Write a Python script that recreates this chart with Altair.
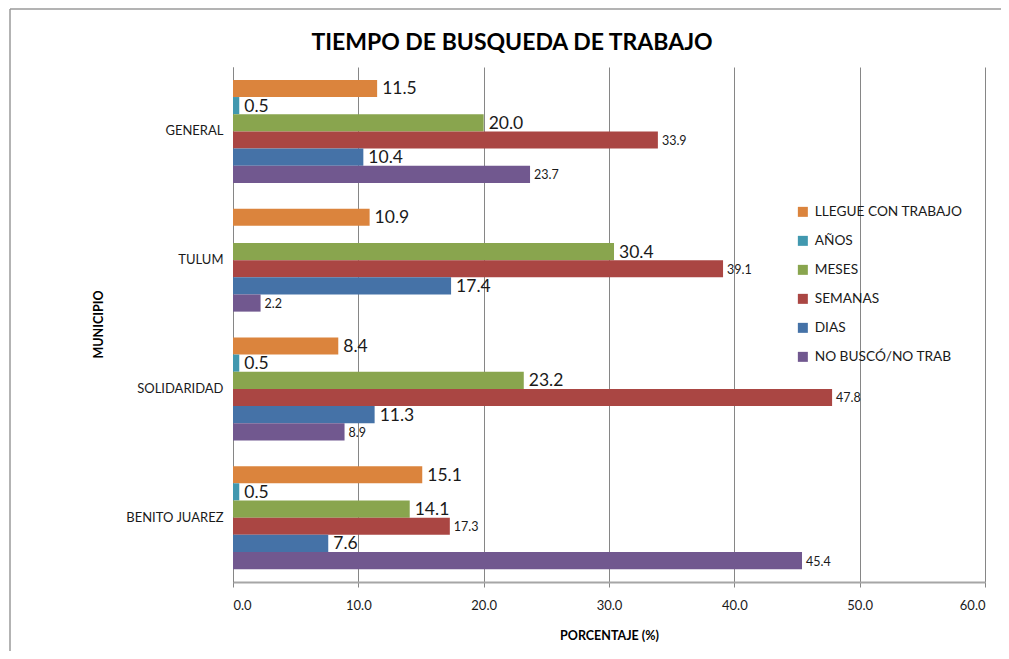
import altair as alt
import pandas as pd

municipios = ["GENERAL", "TULUM", "SOLIDARIDAD", "BENITO JUAREZ"]
series = ["LLEGUE CON TRABAJO", "AÑOS", "MESES", "SEMANAS", "DIAS", "NO BUSCÓ/NO TRAB"]
llegue = [11.5, 10.9, 8.4, 15.1]
anos = [0.5, None, 0.5, 0.5]
meses = [20.0, 30.4, 23.2, 14.1]
semanas = [33.9, 39.1, 47.8, 17.3]
dias = [10.4, 17.4, 11.3, 7.6]
nobusco = [23.7, 2.2, 8.9, 45.4]
colors = ["#DB843D", "#4198AF", "#89A54E", "#AA4643", "#4572A7", "#71588F"]
x_ticks = [0, 10, 20, 30, 40, 50, 60]

values_by_series = [llegue, anos, meses, semanas, dias, nobusco]
rows = []
for s, vals in zip(series, values_by_series):
    for m, v in zip(municipios, vals):
        if v is not None:
            rows.append({"municipio": m, "serie": s, "valor": v})
df = pd.DataFrame(rows)

large_series = ["LLEGUE CON TRABAJO", "AÑOS", "MESES", "DIAS"]
small_series = ["SEMANAS", "NO BUSCÓ/NO TRAB"]

FONT = "Lato"

y_enc = alt.Y(
    "municipio:N",
    sort=municipios,
    scale=alt.Scale(domain=municipios, paddingInner=0.2, paddingOuter=0.1),
    axis=alt.Axis(
        title="MUNICIPIO",
        titleFont=FONT, titleFontSize=12.5, titleFontWeight="bold", titleColor="#000000",
        titleX=-135, titleY=257, titleAngle=-90, titleBaseline="middle", titleAlign="center",
        labelFont=FONT, labelFontSize=13, labelColor="#1a1a1a", labelPadding=10,
        ticks=False, domain=True, domainColor="#868686", domainWidth=1, grid=False,
    ),
)
yoff_enc = alt.YOffset(
    "serie:N", sort=series,
    scale=alt.Scale(domain=series, paddingInner=0, paddingOuter=0),
)
x_enc = alt.X(
    "valor:Q",
    scale=alt.Scale(domain=[0, 60], nice=False),
    axis=alt.Axis(
        title="PORCENTAJE (%)", values=x_ticks, format=".1f",
        titleFont=FONT, titleFontSize=12.5, titleFontWeight="bold", titleColor="#000000",
        titlePadding=17,
        labelFont=FONT, labelFontSize=13, labelColor="#1a1a1a", labelPadding=12,
        tickSize=5, tickColor="#868686", domainColor="#a6a6a6", domainWidth=2,
        grid=True, gridColor="#868686", gridWidth=1,
    ),
)

base = alt.Chart(df).encode(y=y_enc, yOffset=yoff_enc, x=x_enc)

bars = base.mark_bar().encode(
    color=alt.Color(
        "serie:N", sort=series,
        scale=alt.Scale(domain=series, range=colors),
        legend=alt.Legend(
            title=None, orient="none", legendX=563, legendY=138,
            symbolType="square", symbolSize=100, symbolStrokeWidth=0,
            labelFont=FONT, labelFontSize=13.7, labelColor="#1a1a1a",
            labelOffset=5, rowPadding=14,
        ),
    )
)

labels_big = base.mark_text(
    align="left", baseline="middle", dx=5, dy=1, fontSize=17.5, font=FONT, color="#1a1a1a"
).encode(text=alt.Text("valor:Q", format=".1f")).transform_filter(
    alt.FieldOneOfPredicate(field="serie", oneOf=large_series)
)

labels_small = base.mark_text(
    align="left", baseline="middle", dx=4, dy=1, fontSize=12.5, font=FONT, color="#1a1a1a"
).encode(text=alt.Text("valor:Q", format=".1f")).transform_filter(
    alt.FieldOneOfPredicate(field="serie", oneOf=small_series)
)

frame_df = pd.DataFrame({"k": [0]})
border_left = alt.Chart(frame_df).mark_rule(color="#9a9a9a", strokeWidth=1.5).encode(
    x=alt.value(-223), y=alt.value(-58), y2=alt.value(700)
)
border_top = alt.Chart(frame_df).mark_rule(color="#9a9a9a", strokeWidth=1.5).encode(
    x=alt.value(-223), x2=alt.value(900), y=alt.value(-58)
)

chart = alt.layer(bars, labels_big, labels_small, border_left, border_top).properties(
    width=752, height=515,
    autosize=alt.AutoSizeParams(type="none"),
    padding={"left": 225, "top": 59, "right": 16, "bottom": 69},
    title=alt.Title(
        "TIEMPO DE BUSQUEDA DE TRABAJO",
        font=FONT, fontSize=23, fontWeight="bold", color="#000000",
        anchor="middle", dx=-97, dy=61, offset=14,
    ),
).configure_view(stroke=None)

chart.save("out.html", embed_options={"renderer": "svg", "actions": False})
